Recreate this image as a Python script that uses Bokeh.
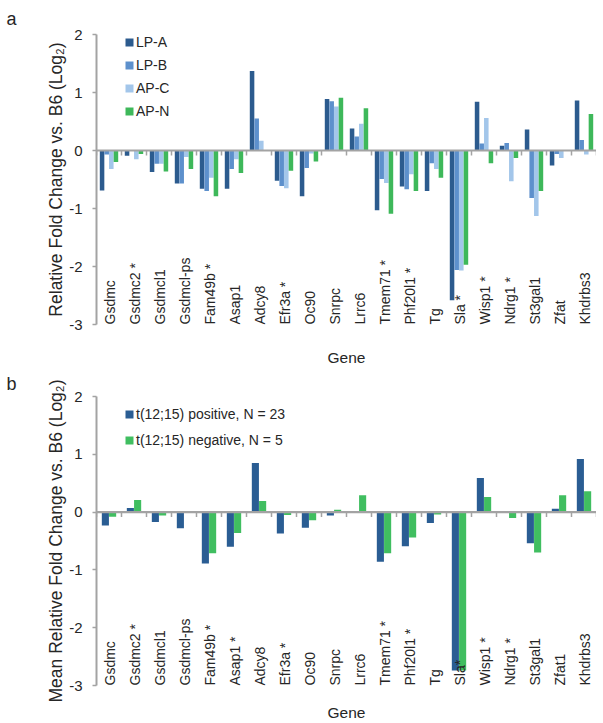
import numpy as np
from bokeh.plotting import figure
from bokeh.layouts import column
from bokeh.models import Range1d, FixedTicker, Span, Legend, LegendItem
from bokeh.core.properties import value
from bokeh.embed import file_html
from bokeh.resources import INLINE

# ---------------- data ----------------
labels_a = ["Gsdmc", "Gsdmc2 *", "Gsdmcl1", "Gsdmcl-ps", "Fam49b *", "Asap1", "Adcy8",
            "Efr3a *", "Oc90", "Snrpc", "Lrrc6", "Tmem71 *", "Phf20l1 *", "Tg", "Sla *",
            "Wisp1 *", "Ndrg1 *", "St3gal1", "Zfat", "Khdrbs3"]
lp_a = [-0.69, -0.09, -0.37, -0.57, -0.66, -0.66, 1.37, -0.52, -0.79, 0.89,
        0.38, -1.03, -0.62, -0.70, -2.58, 0.84, 0.08, 0.36, -0.26, 0.86]
lp_b = [-0.07, -0.01, -0.23, -0.57, -0.70, -0.32, 0.55, -0.61, -0.30, 0.85,
        0.24, -0.49, -0.67, -0.22, -2.06, 0.12, 0.13, -0.82, -0.06, 0.18]
ap_c = [-0.32, -0.15, -0.23, -0.11, -0.47, -0.15, 0.17, -0.65, -0.05, 0.76,
        0.46, -0.56, -0.41, -0.32, -2.07, 0.56, -0.53, -1.13, -0.13, -0.07]
ap_n = [-0.20, -0.06, -0.36, -0.32, -0.79, -0.39, 0.01, -0.35, -0.19, 0.91,
        0.73, -1.09, -0.70, -0.47, -1.97, -0.22, -0.13, -0.70, 0.0, 0.63]
series_a_names = ["LP-A", "LP-B", "AP-C", "AP-N"]

labels_b = ["Gsdmc", "Gsdmc2 *", "Gsdmcl1", "Gsdmcl-ps", "Fam49b *", "Asap1 *", "Adcy8",
            "Efr3a *", "Oc90", "Snrpc", "Lrrc6", "Tmem71 *", "Phf20l1 *", "Tg", "Sla*",
            "Wisp1 *", "Ndrg1 *", "St3gal1", "Zfat1", "Khdrbs3"]
pos_b = [-0.23, 0.07, -0.17, -0.28, -0.89, -0.60, 0.85, -0.37, -0.27, -0.06,
         0.02, -0.86, -0.59, -0.19, -2.74, 0.59, 0.02, -0.54, 0.06, 0.92]
neg_b = [-0.08, 0.21, -0.06, 0.0, -0.71, -0.36, 0.19, -0.05, -0.14, 0.04,
         0.29, -0.71, -0.44, -0.04, -2.74, 0.26, -0.10, -0.70, 0.29, 0.36]
series_b_names = ["t(12;15) positive, N = 23", "t(12;15) negative, N = 5"]

y_ticks = [-3, -2, -1, 0, 1, 2]

# ---------------- style ----------------
FONT = "Liberation Sans"
TXT = "#262626"
GRAY = "#a3a3a3"
colors_a = ["#2c5b8e", "#5d90cc", "#a3c6ea", "#3eb85a"]
colors_b = ["#2a5d93", "#40be60"]


def make_panel(labels, series, names, colors, bar_w, ylabel, letter,
               height, border_top, frame_h, title_standoff, gene_standoff,
               legend_top, legend_spacing):
    n = len(labels)
    border_left = 96
    width = 596
    border_bottom = height - border_top - frame_h
    p = figure(width=width, height=height, output_backend="svg", toolbar_location=None,
               x_range=Range1d(0.5, n + 0.5), y_range=Range1d(y_ticks[0], y_ticks[-1]),
               min_border_left=border_left, min_border_right=0,
               min_border_top=border_top, min_border_bottom=border_bottom)
    p.outline_line_color = None
    p.grid.visible = False
    p.background_fill_color = "white"
    p.border_fill_color = "white"

    # panel letter as the title
    p.title.text = letter
    p.title.align = "left"
    p.title.offset = -90
    p.title.standoff = title_standoff
    p.title.text_font = FONT
    p.title.text_font_size = "18px"
    p.title.text_font_style = "normal"
    p.title.text_color = TXT

    xs = np.arange(1, n + 1)
    k = len(series)
    offsets = (np.arange(k) - (k - 1) / 2.0) * bar_w
    bar_renderers = []
    for vals, c, off in zip(series, colors, offsets):
        r = p.vbar(x=xs + off, top=vals, bottom=0, width=bar_w * 0.98,
                   fill_color=c, line_color=None)
        bar_renderers.append(r)

    # zero line with category-boundary ticks
    p.add_layout(Span(location=0, dimension="width", line_color=GRAY, line_width=2.2))
    unit_px = frame_h / (y_ticks[-1] - y_ticks[0])
    bounds = np.arange(n + 1) + 0.5
    p.segment(x0=bounds, y0=np.zeros(n + 1), x1=bounds, y1=np.full(n + 1, -5.0 / unit_px),
              line_color=GRAY, line_width=1.5)

    # category labels drawn vertically from the bottom of the plot
    p.text(x=xs, y=np.full(n, float(y_ticks[0])), text=labels, angle=np.pi / 2,
           text_align="left", text_baseline="middle", text_font=value(FONT),
           text_font_size="14px", text_color=TXT, x_offset=1, y_offset=0)

    # y axis
    ya = p.yaxis[0]
    ya.ticker = FixedTicker(ticks=y_ticks)
    ya.major_label_overrides = {t: str(t) for t in y_ticks}
    ya.axis_line_color = GRAY
    ya.axis_line_width = 2
    ya.major_tick_line_color = GRAY
    ya.major_tick_line_width = 1.5
    ya.major_tick_in = 0
    ya.major_tick_out = 4
    ya.minor_tick_line_color = None
    ya.major_label_text_font = FONT
    ya.major_label_text_font_size = "15px"
    ya.major_label_text_color = TXT
    ya.major_label_standoff = 10
    ya.axis_label = ylabel
    ya.axis_label_text_font = FONT
    ya.axis_label_text_font_size = "17.5px"
    ya.axis_label_text_font_style = "normal"
    ya.axis_label_text_color = TXT
    ya.axis_label_standoff = 0

    # x axis only carries the "Gene" title
    xa = p.xaxis[0]
    xa.ticker = FixedTicker(ticks=[])
    xa.axis_line_color = None
    xa.major_tick_line_color = None
    xa.minor_tick_line_color = None
    xa.major_tick_out = 0
    xa.major_label_standoff = 0
    xa.axis_label = "Gene"
    xa.axis_label_text_font = FONT
    xa.axis_label_text_font_size = "15.5px"
    xa.axis_label_text_font_style = "normal"
    xa.axis_label_text_color = TXT
    xa.axis_label_standoff = gene_standoff

    # legend
    items = [LegendItem(label=name, renderers=[r]) for name, r in zip(names, bar_renderers)]
    leg_h = len(names) * 16 + (len(names) - 1) * legend_spacing
    legend = Legend(items=items, location=(28, frame_h - legend_top - leg_h),
                    glyph_width=10, glyph_height=10, label_height=10,
                    label_standoff=2, spacing=legend_spacing, padding=0, margin=0,
                    border_line_color=None, background_fill_alpha=0,
                    label_text_font=FONT, label_text_font_size="14px",
                    label_text_color=TXT)
    p.add_layout(legend)
    return p


pa = make_panel(labels_a, [lp_a, lp_b, ap_c, ap_n], series_a_names, colors_a, 0.185,
                "Relative Fold Change vs. B6 (Log\u2082)", "a",
                height=368, border_top=33, frame_h=293, title_standoff=12, gene_standoff=24,
                legend_top=3, legend_spacing=7)
pb = make_panel(labels_b, [pos_b, neg_b], series_b_names, colors_b, 0.29,
                "Mean Relative Fold Change vs. B6 (Log\u2082)", "b",
                height=355, border_top=27, frame_h=292, title_standoff=6, gene_standoff=18,
                legend_top=13, legend_spacing=10)

layout = column(pa, pb, spacing=0)
open("out.html", "w").write(file_html(layout, INLINE))
